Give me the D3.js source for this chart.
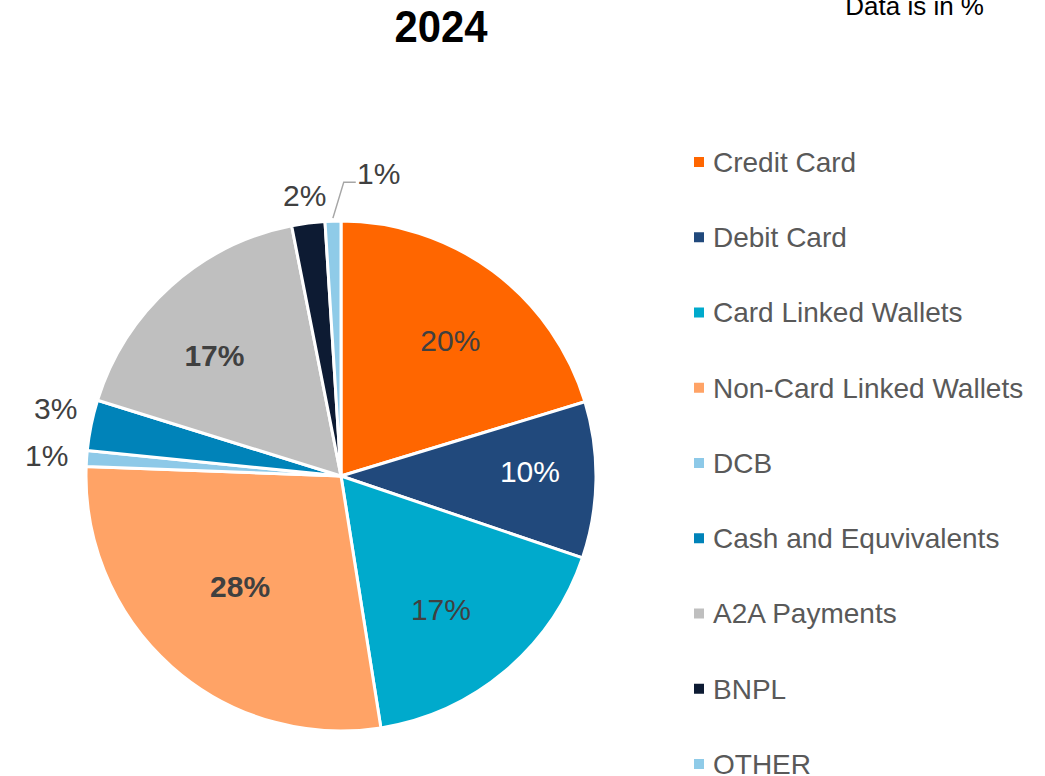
<!DOCTYPE html>
<html>
<head>
<meta charset="utf-8">
<script src="https://cdn.jsdelivr.net/npm/d3@7"></script>
<style>
  body { margin: 0; background: #fff; }
  text { font-family: Arial, "Liberation Sans", sans-serif; }
</style>
</head>
<body>
<div id="chart"></div>
<script>
const categories = ['Credit Card', 'Debit Card', 'Card Linked Wallets', 'Non-Card Linked Wallets', 'DCB',
    'Cash and Equvivalents', 'A2A Payments', 'BNPL', 'OTHER'];
const values = [20.3, 9.9, 17.3, 28.1, 1.0, 3.2, 17.1, 2.1, 1.0];
const labels = ['20%', '10%', '17%', '28%', '1%', '3%', '17%', '2%', '1%'];
const colors = ['#ff6600', '#21497c', '#00aacc', '#ffa366', '#8dc9e8', '#0083b9', '#bfbfbf', '#0d1b33', '#8fcbe8'];

// label placement per slice (Excel "best fit" style): distance from centre and small angle nudge
const labelR = [174, 189, 167, 150, 295, 293, 175, 283, 0];
const labelNudge = [2.4, -2.3, 3.4, 0.7, 0, 1.7, -4.4, 0, 0];
const boldLabel = [false, false, false, true, false, false, true, false, false];
const whiteLabel = [false, true, false, false, false, false, false, false, false];
const leaderIdx = 8;

const width = 1045, height = 776;
const cx = 341, cy = 476, radius = 255;

const svg = d3.select('#chart').append('svg')
    .attr('width', width)
    .attr('height', height);

svg.append('text')
    .attr('x', 441).attr('y', 42)
    .attr('text-anchor', 'middle')
    .style('font-family', '"Liberation Sans Narrow", "Arial Narrow", Arial, sans-serif')
    .style('font-weight', 'bold')
    .style('font-size', '44px')
    .attr('textLength', 93)
    .attr('lengthAdjust', 'spacingAndGlyphs')
    .attr('fill', '#000')
    .text('2024');

svg.append('text')
    .attr('x', 984).attr('y', 15)
    .attr('text-anchor', 'end')
    .style('font-size', '26px')
    .attr('fill', '#000')
    .text('Data is in %');

const data = categories.map((c, i) => ({name: c, value: values[i], i: i}));

const pie = d3.pie().sort(null).value(d => d.value);
const arcs = pie(data);

const arc = d3.arc().innerRadius(0).outerRadius(radius);

const labelPos = d => {
    const a = (d.startAngle + d.endAngle) / 2 + labelNudge[d.data.i] * Math.PI / 180;
    const r = labelR[d.data.i];
    return [r * Math.sin(a), -r * Math.cos(a)];
};

const chart = svg.append('g').attr('transform', `translate(${cx},${cy})`);

chart.selectAll('.slice')
    .data(arcs)
    .join('path')
    .attr('class', 'slice')
    .attr('d', arc)
    .attr('fill', d => colors[d.data.i])
    .attr('stroke', '#fff')
    .attr('stroke-width', 3)
    .attr('stroke-linejoin', 'round');

// leader line for the small OTHER slice
const leadArc = arcs[leaderIdx];
const p0 = d3.arc().innerRadius(radius + 3).outerRadius(radius + 3).centroid(leadArc);
const p1 = d3.arc().innerRadius(radius + 39).outerRadius(radius + 39).centroid(leadArc);
const bend = [p1[0] + 12, p1[1]];
const tail = [bend[0] + 12, bend[1]];

chart.append('polyline')
    .attr('fill', 'none')
    .attr('stroke', '#a6a6a6')
    .attr('stroke-width', 1.5)
    .attr('points', [p0, bend, tail].map(p => p.join(',')).join(' '));

chart.selectAll('.lbl')
    .data(arcs)
    .join('text')
    .attr('class', 'lbl')
    .attr('transform', d => {
        if (d.data.i === leaderIdx) return `translate(${tail[0] + 23},${tail[1] - 9})`;
        return `translate(${labelPos(d)})`;
    })
    .attr('text-anchor', 'middle')
    .attr('dy', '0.35em')
    .style('font-size', '30px')
    .style('font-weight', d => boldLabel[d.data.i] ? 'bold' : 'normal')
    .attr('fill', d => whiteLabel[d.data.i] ? '#fff' : '#404040')
    .text(d => labels[d.data.i]);

// legend
const legendY = d3.scaleLinear().domain([0, categories.length - 1]).range([162, 764]);
const legend = svg.append('g');
const rows = legend.selectAll('.row')
    .data(data)
    .join('g')
    .attr('class', 'row')
    .attr('transform', d => `translate(694,${legendY(d.i)})`);

rows.append('rect')
    .attr('x', 0).attr('y', -5)
    .attr('width', 10).attr('height', 10)
    .attr('fill', d => colors[d.i]);

rows.append('text')
    .attr('x', 19).attr('y', 0)
    .attr('dy', '0.35em')
    .style('font-size', '28px')
    .attr('fill', '#595959')
    .text(d => d.name);
</script>
</body>
</html>
